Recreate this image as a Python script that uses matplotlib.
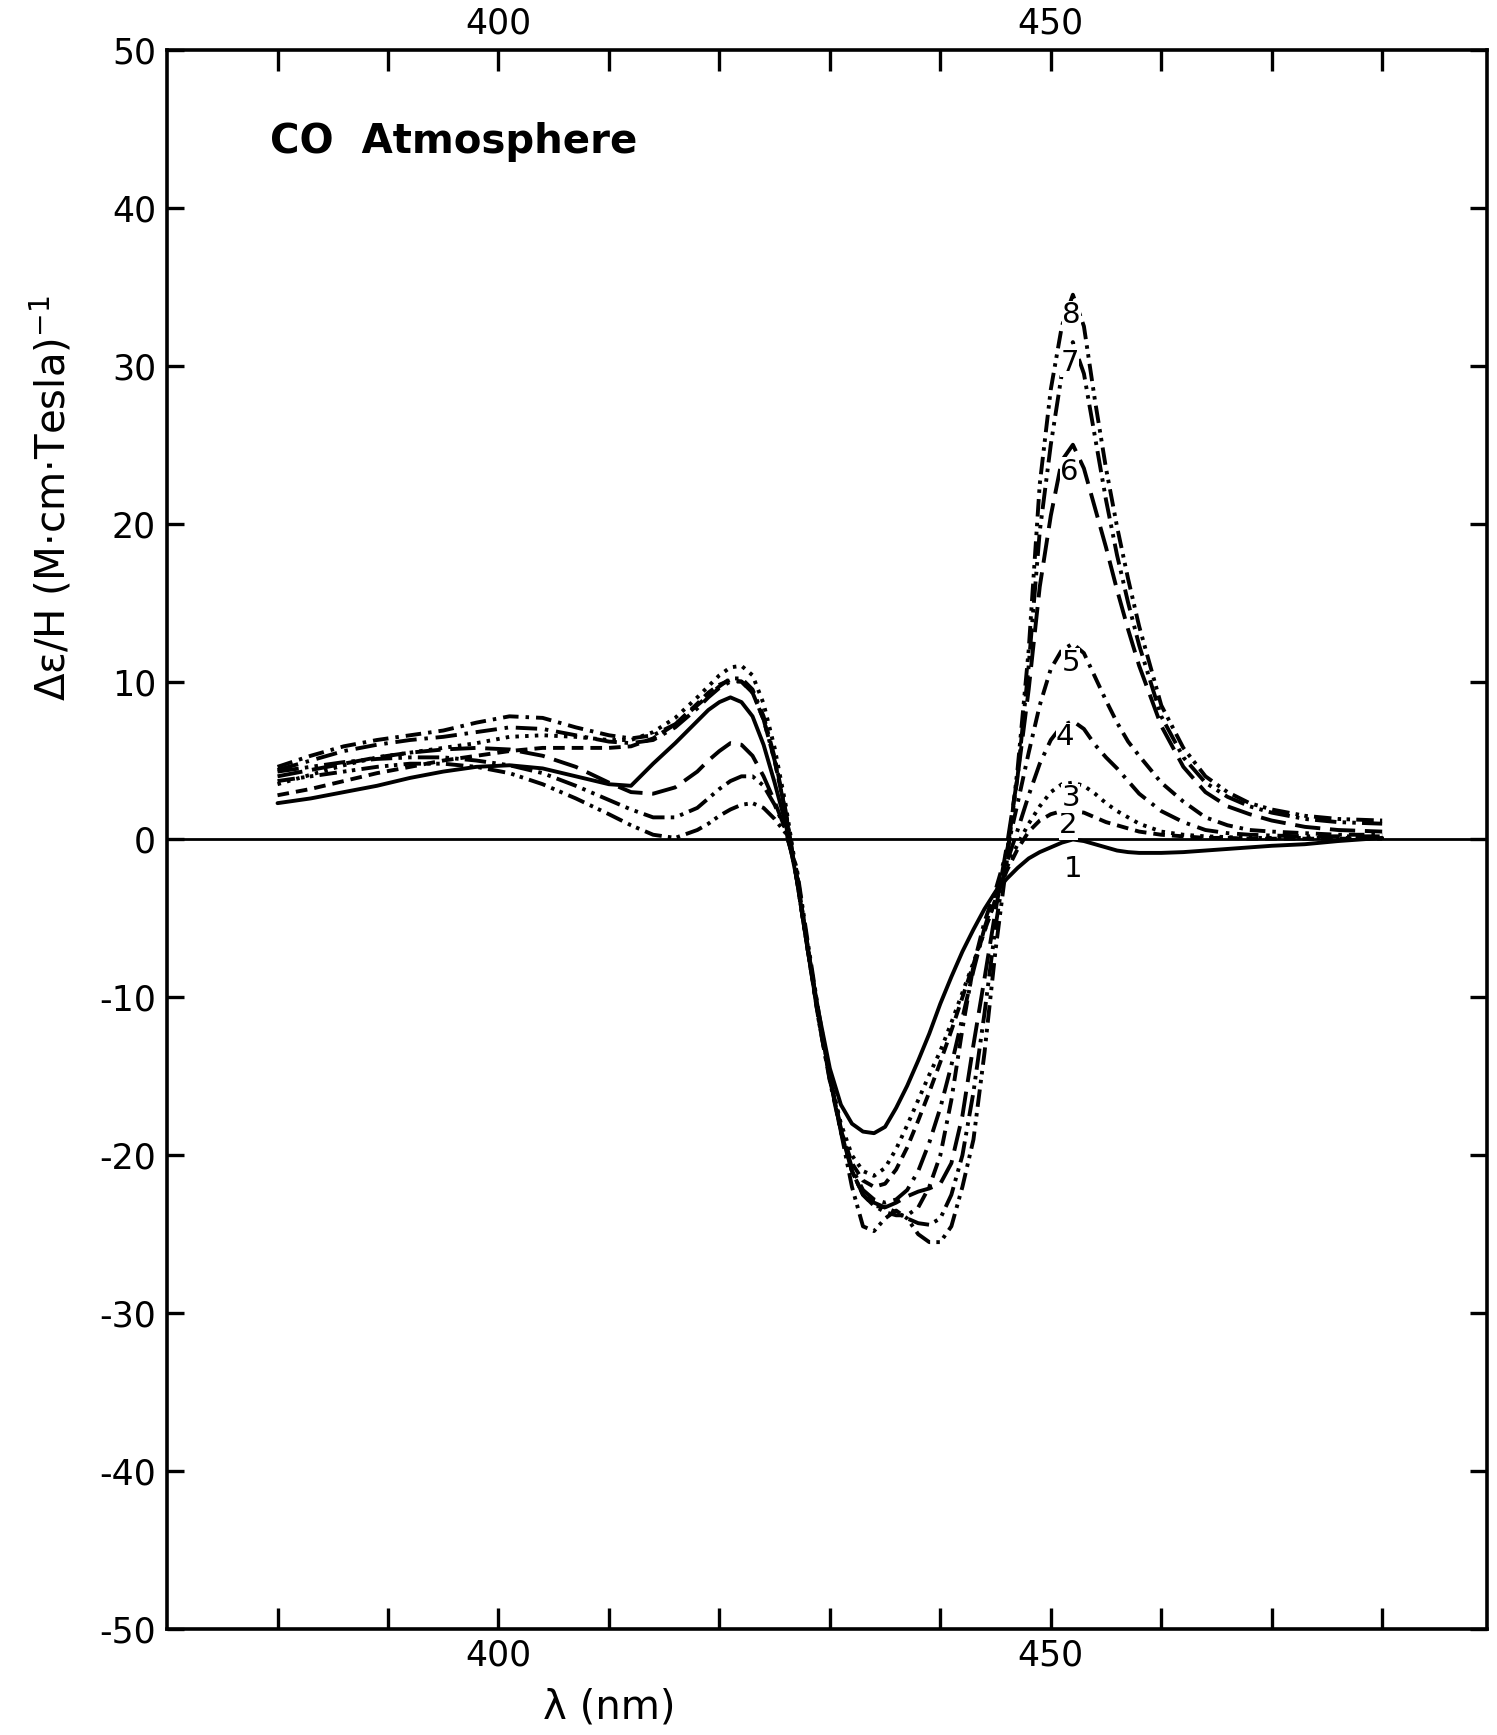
import matplotlib
matplotlib.use('Agg')
import matplotlib.pyplot as plt

# ---------------- data ----------------
wavelength = [380, 383, 386, 389, 392, 395, 398, 401, 404, 407, 410, 412, 414, 416, 418,
              419, 420, 421, 422, 423, 424, 425, 426, 427, 428, 429, 430, 431, 432, 433,
              434, 435, 436, 437, 438, 439, 440, 441, 442, 443, 444, 445, 446, 447, 448,
              449, 450, 451, 452, 453, 454, 455, 456, 457, 458, 460, 462, 464, 466, 468,
              470, 473, 476, 480]

curve1 = [2.3, 2.6, 3.0, 3.4, 3.9, 4.3, 4.6, 4.7, 4.5, 4.0, 3.5, 3.4, 4.8, 6.1, 7.5,
          8.2, 8.7, 9.0, 8.7, 7.8, 6.0, 3.6, 1.0, -2.5, -7.0, -11.0, -14.5, -16.8, -18.0, -18.5,
          -18.6, -18.2, -17.0, -15.6, -14.0, -12.3, -10.4, -8.7, -7.1, -5.7, -4.4, -3.3, -2.5, -1.8, -1.2,
          -0.8, -0.5, -0.2, 0.0, -0.1, -0.3, -0.5, -0.7, -0.8, -0.85, -0.85, -0.8, -0.7, -0.6, -0.5,
          -0.4, -0.3, -0.1, 0.1]
curve2 = [2.8, 3.2, 3.7, 4.2, 4.6, 5.0, 5.3, 5.6, 5.8, 5.8, 5.8, 5.9, 6.4, 7.3, 8.6,
          9.3, 9.8, 10.1, 10.0, 9.3, 7.6, 5.0, 1.7, -2.5, -7.0, -11.4, -15.2, -18.4, -20.5, -21.6,
          -22.0, -21.8, -20.9, -19.5, -17.8, -16.0, -14.1, -12.1, -10.0, -7.9, -5.8, -3.8, -2.0, -0.6, 0.5,
          1.2, 1.6, 1.8, 1.8, 1.7, 1.4, 1.1, 0.9, 0.7, 0.5, 0.3, 0.2, 0.1, 0.1, 0.05,
          0.05, 0.05, 0.05, 0.05]
curve3 = [3.5, 4.1, 4.7, 5.2, 5.5, 5.8, 6.1, 6.5, 6.6, 6.5, 6.3, 6.3, 6.8, 7.7, 9.0,
          9.7, 10.4, 10.9, 11.0, 10.4, 8.6, 5.8, 2.2, -2.2, -6.8, -11.2, -15.0, -18.0, -20.0, -21.0,
          -21.3, -20.8, -19.6, -18.1, -16.5, -14.9, -13.4, -11.6, -9.7, -7.8, -5.8, -3.8, -1.8, -0.3, 1.0,
          2.1, 3.0, 3.5, 3.6, 3.4, 2.9, 2.3, 1.8, 1.4, 1.0, 0.5, 0.3, 0.2, 0.15, 0.1,
          0.1, 0.1, 0.1, 0.1]
curve4 = [4.4, 5.0, 5.6, 6.0, 6.3, 6.5, 6.8, 7.1, 7.0, 6.6, 6.2, 6.1, 6.3, 7.1, 8.3,
          9.0, 9.6, 10.0, 10.0, 9.3, 7.6, 5.0, 1.7, -2.5, -7.0, -11.5, -15.2, -18.4, -20.8, -22.2,
          -22.8, -23.0, -22.8, -22.2, -21.0, -19.2, -17.0, -14.3, -11.3, -8.3, -5.6, -3.4, -1.5, 0.6, 2.8,
          4.8, 6.3, 7.2, 7.5, 7.0, 6.0, 5.2, 4.5, 3.7, 2.9, 1.8, 1.1, 0.6, 0.4, 0.3,
          0.25, 0.2, 0.2, 0.2]
curve5 = [4.6, 5.3, 5.9, 6.3, 6.6, 6.9, 7.4, 7.8, 7.7, 7.1, 6.6, 6.4, 6.6, 7.3, 8.5,
          9.1, 9.7, 10.2, 10.2, 9.5, 7.8, 5.2, 1.8, -2.5, -7.0, -11.5, -15.3, -18.5, -21.0, -22.5,
          -23.2, -23.6, -23.8, -23.8, -23.3, -22.0, -20.0, -16.5, -12.0, -8.0, -5.2, -3.2, -0.8, 2.3, 5.5,
          8.5, 10.8, 12.0, 12.4, 11.8, 10.3, 8.8, 7.4, 6.2, 5.3, 3.6, 2.4, 1.4, 0.9, 0.6,
          0.5, 0.4, 0.3, 0.3]
curve6 = [4.0, 4.4, 4.8, 5.2, 5.5, 5.7, 5.8, 5.7, 5.3, 4.6, 3.6, 3.0, 2.9, 3.3, 4.3,
          5.0, 5.6, 6.1, 6.0, 5.3, 4.0, 2.4, 0.6, -2.2, -6.8, -11.3, -15.0, -18.5, -21.0, -22.5,
          -23.2, -23.3, -23.0, -22.6, -22.3, -22.1, -21.8, -20.5, -17.5, -13.0, -8.8, -4.5, -0.5, 4.0, 9.5,
          16.0, 20.5, 24.0, 25.0, 23.5, 21.0, 18.5, 15.8, 13.3, 11.0, 7.2, 4.6, 3.0, 2.1, 1.6,
          1.2, 0.8, 0.6, 0.5]
curve7 = [4.3, 4.6, 4.9, 5.1, 5.2, 5.2, 5.0, 4.7, 4.2, 3.4, 2.5, 1.9, 1.4, 1.4, 2.0,
          2.6, 3.2, 3.7, 4.0, 4.0, 3.4, 2.2, 0.6, -2.0, -6.8, -11.2, -15.0, -18.3, -21.0, -22.5,
          -23.0, -23.3, -23.6, -24.0, -24.3, -24.4, -24.0, -22.5, -20.0, -16.0, -11.0, -5.5, -1.0, 4.0, 11.0,
          19.5, 25.0, 29.5, 31.5, 29.5, 25.5, 21.5, 18.0, 15.0, 12.3, 7.8, 5.2, 3.6, 2.7, 2.1,
          1.7, 1.3, 1.1, 1.0]
curve8 = [3.7, 4.0, 4.3, 4.6, 4.8, 4.8, 4.6, 4.2, 3.5, 2.6, 1.6, 0.9, 0.3, 0.1, 0.6,
          1.0, 1.5, 1.9, 2.2, 2.3, 2.0, 1.3, 0.4, -1.8, -6.5, -11.0, -15.0, -18.5, -22.0, -24.5,
          -24.8, -24.0, -23.5, -24.0, -25.0, -25.5, -25.5, -24.5, -22.0, -19.0, -13.5, -7.0, -1.5, 4.5, 12.0,
          22.5, 28.5, 32.5, 34.5, 32.5, 27.8, 23.5, 19.8, 16.5, 13.5, 8.5, 5.8, 4.0, 3.0, 2.3,
          1.9, 1.5, 1.3, 1.2]

curve_labels = ["1", "2", "3", "4", "5", "6", "7", "8"]
x_ticks = [380, 390, 400, 410, 420, 430, 440, 450, 460, 470, 480]
x_tick_labels = ["", "", "400", "", "", "", "", "450", "", "", ""]
y_ticks = [-50, -40, -30, -20, -10, 0, 10, 20, 30, 40, 50]
y_tick_labels = ["-50", "-40", "-30", "-20", "-10", "0", "10", "20", "30", "40", "50"]

# label anchor positions (wavelength, value) for the curve numbers
label_pos = [(452.0, -1.9), (451.6, 0.9), (451.8, 2.6), (451.3, 6.5),
             (451.8, 11.2), (451.7, 23.3), (451.7, 30.2), (451.9, 33.2)]

# ---------------- styling ----------------
plt.rcParams['axes.unicode_minus'] = False
plt.rcParams['font.family'] = ['DejaVu Sans']

curves = [curve1, curve2, curve3, curve4, curve5, curve6, curve7, curve8]
styles = ['-',
          (0, (3.0, 1.8)),
          (0, (0.9, 1.6)),
          (0, (5.5, 2.0, 0.9, 2.0)),
          (0, (4.0, 1.8, 0.9, 1.8)),
          (0, (6.5, 2.5)),
          (0, (5.5, 1.6, 0.9, 1.6, 0.9, 1.6)),
          (0, (4.5, 1.6, 0.9, 1.4, 0.9, 1.6))]

fig = plt.figure(figsize=(14.97, 17.35), dpi=100)
ax = fig.add_axes([0.1116, 0.0611, 0.8818, 0.9101])

for y, ls in zip(curves, styles):
    ax.plot(wavelength, y, color='black', lw=2.8, linestyle=ls, solid_capstyle='round')

ax.axhline(0, color='black', lw=2.0)

for lab, (lx, ly) in zip(curve_labels, label_pos):
    ax.text(lx, ly, lab, ha='center', va='center', fontsize=21, color='black',
            bbox=dict(facecolor='white', edgecolor='none', pad=0.3))

ax.text(379.3, 44.2, 'CO  Atmosphere', fontsize=29, fontweight='bold',
        ha='left', va='center')

ax.set_xlim(370.0, 489.5)
ax.set_ylim(-50, 50)
ax.set_xticks(x_ticks)
ax.set_xticklabels(x_tick_labels)
ax.set_yticks(y_ticks)
ax.set_yticklabels(y_tick_labels)

ax.tick_params(axis='x', which='major', direction='in', length=15, width=2.4,
               top=True, labeltop=True, labelsize=25, pad=7)
ax.tick_params(axis='y', which='major', direction='in', length=12, width=2.4,
               right=True, labelsize=25, pad=8)
for sp in ax.spines.values():
    sp.set_linewidth(2.6)

ax.text(410.0, -55.0, 'λ (nm)', fontsize=29, ha='center', va='center')
ax.text(-0.087, 0.716, 'Δε/H (M·cm·Tesla)$^{-1}$', rotation=90, fontsize=29,
        ha='center', va='center', transform=ax.transAxes)

fig.savefig('out.png', dpi=100, facecolor='white')
